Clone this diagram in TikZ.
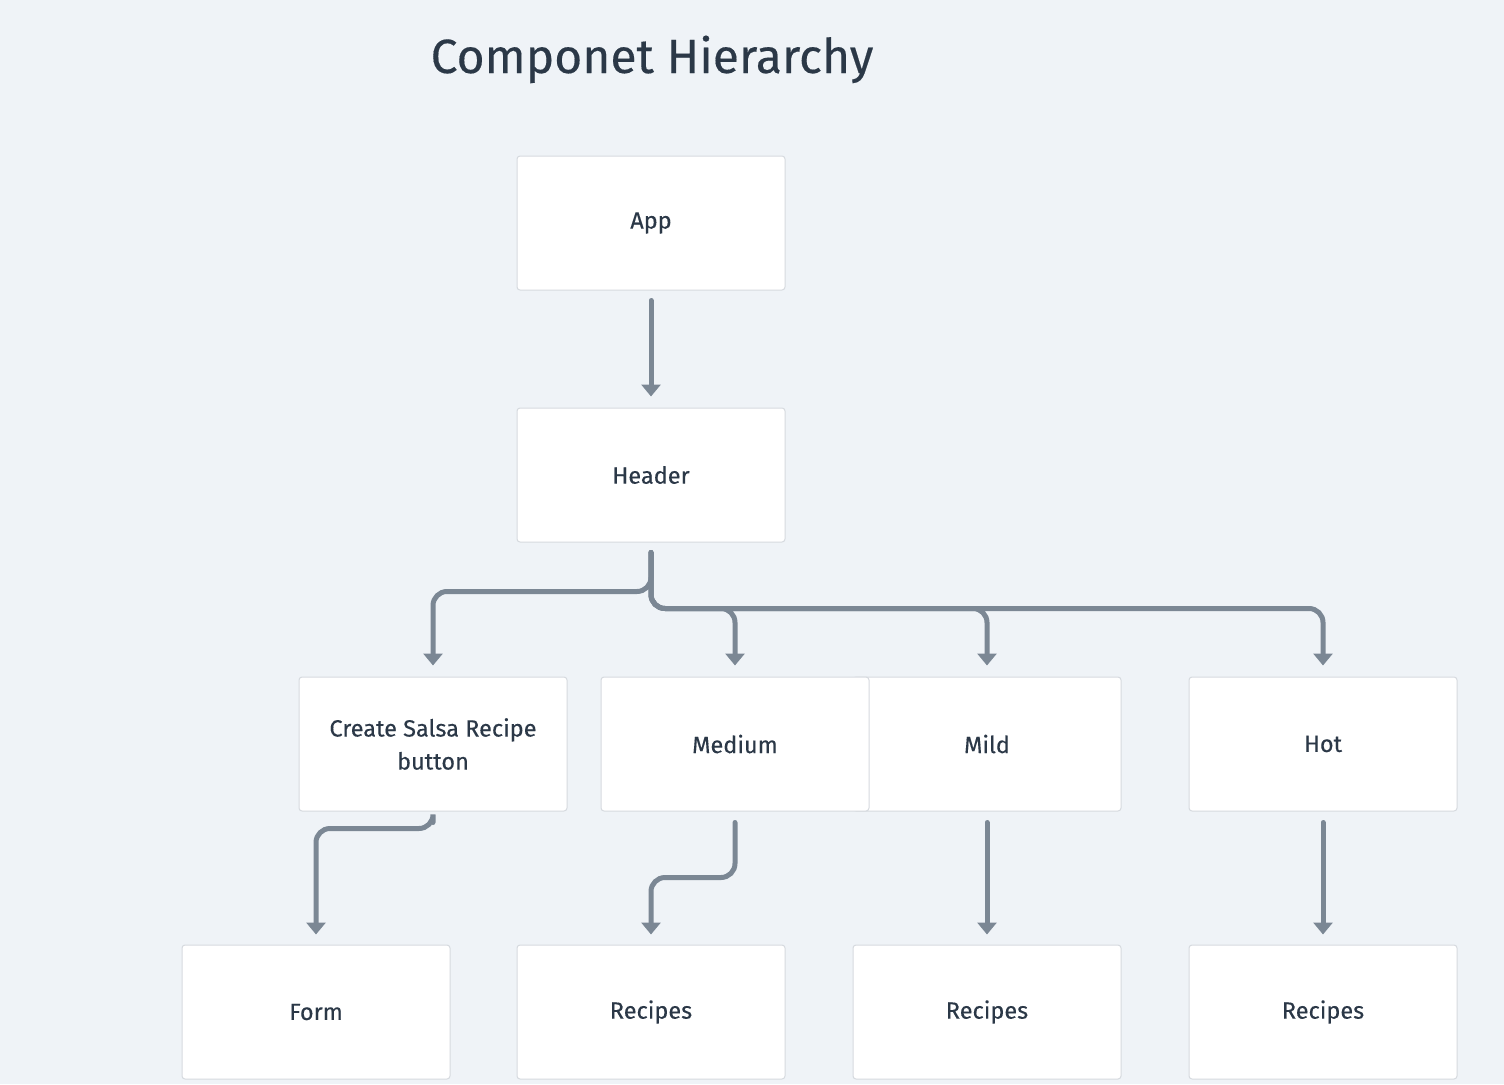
\documentclass[tikz,border=0pt]{standalone}
\usepackage{fontspec}
\setmainfont{Fira Sans}
\usetikzlibrary{arrows.meta,calc}
\definecolor{bg}{HTML}{EFF3F7}
\definecolor{txt}{HTML}{2B3847}
\definecolor{conn}{HTML}{7B8794}
\definecolor{edge}{HTML}{D6DADF}
\tikzset{
  box/.style={draw=edge, line width=1pt, fill=white, rounded corners=3pt,
    minimum width=268pt, minimum height=134pt, inner sep=0pt,
    text=txt, font=\fontsize{23.5}{33}\selectfont\addfontfeature{FakeBold=0.25}, align=center},
  link/.style={draw=conn, line width=5pt, line cap=round, rounded corners=14pt,
    -{Triangle[width=19pt,length=12pt]}},
}
\begin{document}
\begin{tikzpicture}[x=1pt,y=-1pt]
\fill[bg] (0,0) rectangle (1504,1084);
\useasboundingbox (0,0) rectangle (1504,1084);
\node[text=txt, font=\fontsize{48}{58}\selectfont\addfontfeature{FakeBold=0.3}, anchor=base] (title) at (652,73) {Componet Hierarchy};
\node[box] (app) at (651,223) {App};
\node[box] (header) at (651,475) {Header};
\node[box] (csr) at (433,744) {Create Salsa Recipe\\button};
\node[box] (mild) at (987,744) {Mild};
\node[box] (medium) at (735,744) {Medium};
\node[box] (hot) at (1323,744) {Hot};
\node[box] (form) at (316,1012) {Form};
\node[box] (rec1) at (651,1012) {Recipes};
\node[box] (rec2) at (987,1012) {Recipes};
\node[box] (rec3) at (1323,1012) {Recipes};
% connectors
\draw[link] ($(app.south)+(0,10)$) -- ($(header.north)+(0,-11)$);
\draw[link] ($(header.south)+(0,10)$) |- ($(csr.north)+(0,-85)$) -- ($(csr.north)+(0,-11)$);
\draw[link] ($(header.south)+(0,10)$) |- ($(hot.north)+(0,-68)$) -- ($(hot.north)+(0,-11)$);
\draw[link] ($(header.south)+(0,10)$) |- ($(mild.north)+(0,-68)$) -- ($(mild.north)+(0,-11)$);
\draw[link] ($(header.south)+(0,10)$) |- ($(medium.north)+(0,-68)$) -- ($(medium.north)+(0,-11)$);
\draw[link] ($(csr.south)+(0,11)$) -- ($(csr.south)+(0,17)$) -| ($(form.north)+(0,-10)$);
\draw[link] ($(medium.south)+(0,11)$) |- ($(rec1.north)+(0,-67)$) -- ($(rec1.north)+(0,-10)$);
\draw[link] ($(mild.south)+(0,11)$) -- ($(rec2.north)+(0,-10)$);
\draw[link] ($(hot.south)+(0,11)$) -- ($(rec3.north)+(0,-10)$);
\end{tikzpicture}
\end{document}
